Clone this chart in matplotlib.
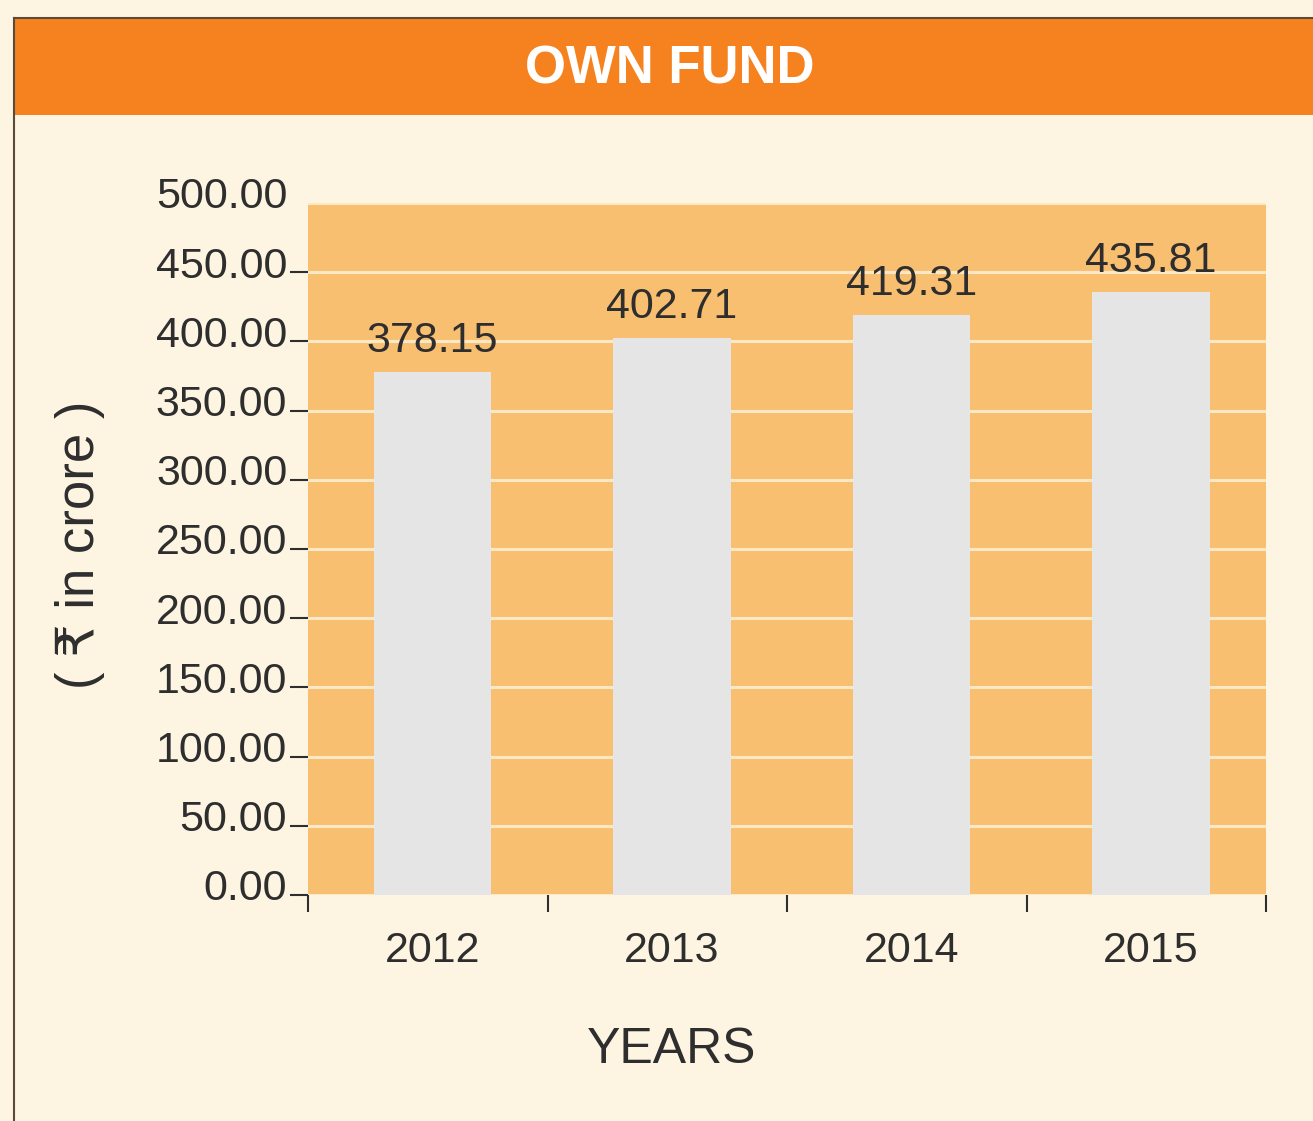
import numpy as np
from matplotlib import pyplot as plt
from matplotlib.patches import Rectangle
from matplotlib.lines import Line2D
import matplotlib.transforms as mtransforms

plt.rcParams['font.family'] = ['Liberation Sans', 'DejaVu Sans']

years = ['2012', '2013', '2014', '2015']
own_fund = [378.15, 402.71, 419.31, 435.81]
yticks = [0, 50, 100, 150, 200, 250, 300, 350, 400, 450, 500]

cream = '#FDF5E2'
band = '#F5821F'
plot_bg = '#F8BF70'
grid_c = '#FCE8C4'
bar_c = '#E5E5E6'
txt = '#2E2E2E'

fig = plt.figure(figsize=(13.13, 11.21), dpi=100)
fig.patch.set_facecolor(cream)

# header band + frame
fig.patches.append(Rectangle((14/1313, 1 - 115/1121), 1, 97/1121, transform=fig.transFigure,
                             facecolor=band, edgecolor='none', zorder=0))
fig.lines.append(Line2D([14/1313, 1], [1 - 18/1121, 1 - 18/1121], transform=fig.transFigure,
                        color='#5A4A3A', lw=1.5))
fig.lines.append(Line2D([14/1313, 14/1313], [0, 1 - 18/1121], transform=fig.transFigure,
                        color='#5A4A3A', lw=1.5))
fig.text(670/1313, 1 - 70/1121, 'OWN FUND', color='white', fontsize=38, fontweight='bold',
         ha='center', va='center')

ax = fig.add_axes([308/1313, 1 - 895/1121, (1266 - 308)/1313, (895 - 203)/1121])
ax.set_facecolor(plot_bg)
x = np.arange(len(years))
ax.set_xlim(-0.5, len(years) - 0.5)
ax.set_ylim(0, 498)
ax.set_axisbelow(True)
ax.yaxis.grid(True, color=grid_c, lw=2.2)
bars = ax.bar(x + 0.02, own_fund, width=0.49, color=bar_c, zorder=2)
for b, v in zip(bars, own_fund):
    ax.annotate(f'{v:.2f}', (b.get_x() + b.get_width()/2, v), xytext=(0, 8),
                textcoords='offset points', ha='center', va='bottom', fontsize=31, color=txt)

for s in ax.spines.values():
    s.set_visible(False)

ax.set_yticks(yticks)
ax.set_yticklabels([f'{t:.2f}' for t in yticks])
ax.tick_params(axis='y', length=13, width=1.5, color=txt, labelsize=31, labelcolor=txt, pad=2)
ax.yaxis.get_major_ticks()[-1].tick1line.set_visible(False)
off = mtransforms.ScaledTranslation(0, 10/100, fig.dpi_scale_trans)
for lab in ax.get_yticklabels():
    lab.set_transform(lab.get_transform() + off)

ax.set_xticks(x + 0.02)
ax.set_xticklabels(years)
ax.set_xticks(np.arange(len(years) + 1) - 0.5, minor=True)
ax.tick_params(axis='x', which='major', length=0, labelsize=31, labelcolor=txt, pad=26)
ax.tick_params(axis='x', which='minor', length=12, width=1.5, color=txt)

fig.text(672/1313, 1 - 1050/1121, 'YEARS', fontsize=36, color=txt, ha='center', va='center')
fig.text(80/1313, 1 - 545/1121, '( ₹ in crore )', rotation=90, fontsize=38, color=txt,
         ha='center', va='center')

plt.savefig('out.png', dpi=100, facecolor=fig.get_facecolor())
